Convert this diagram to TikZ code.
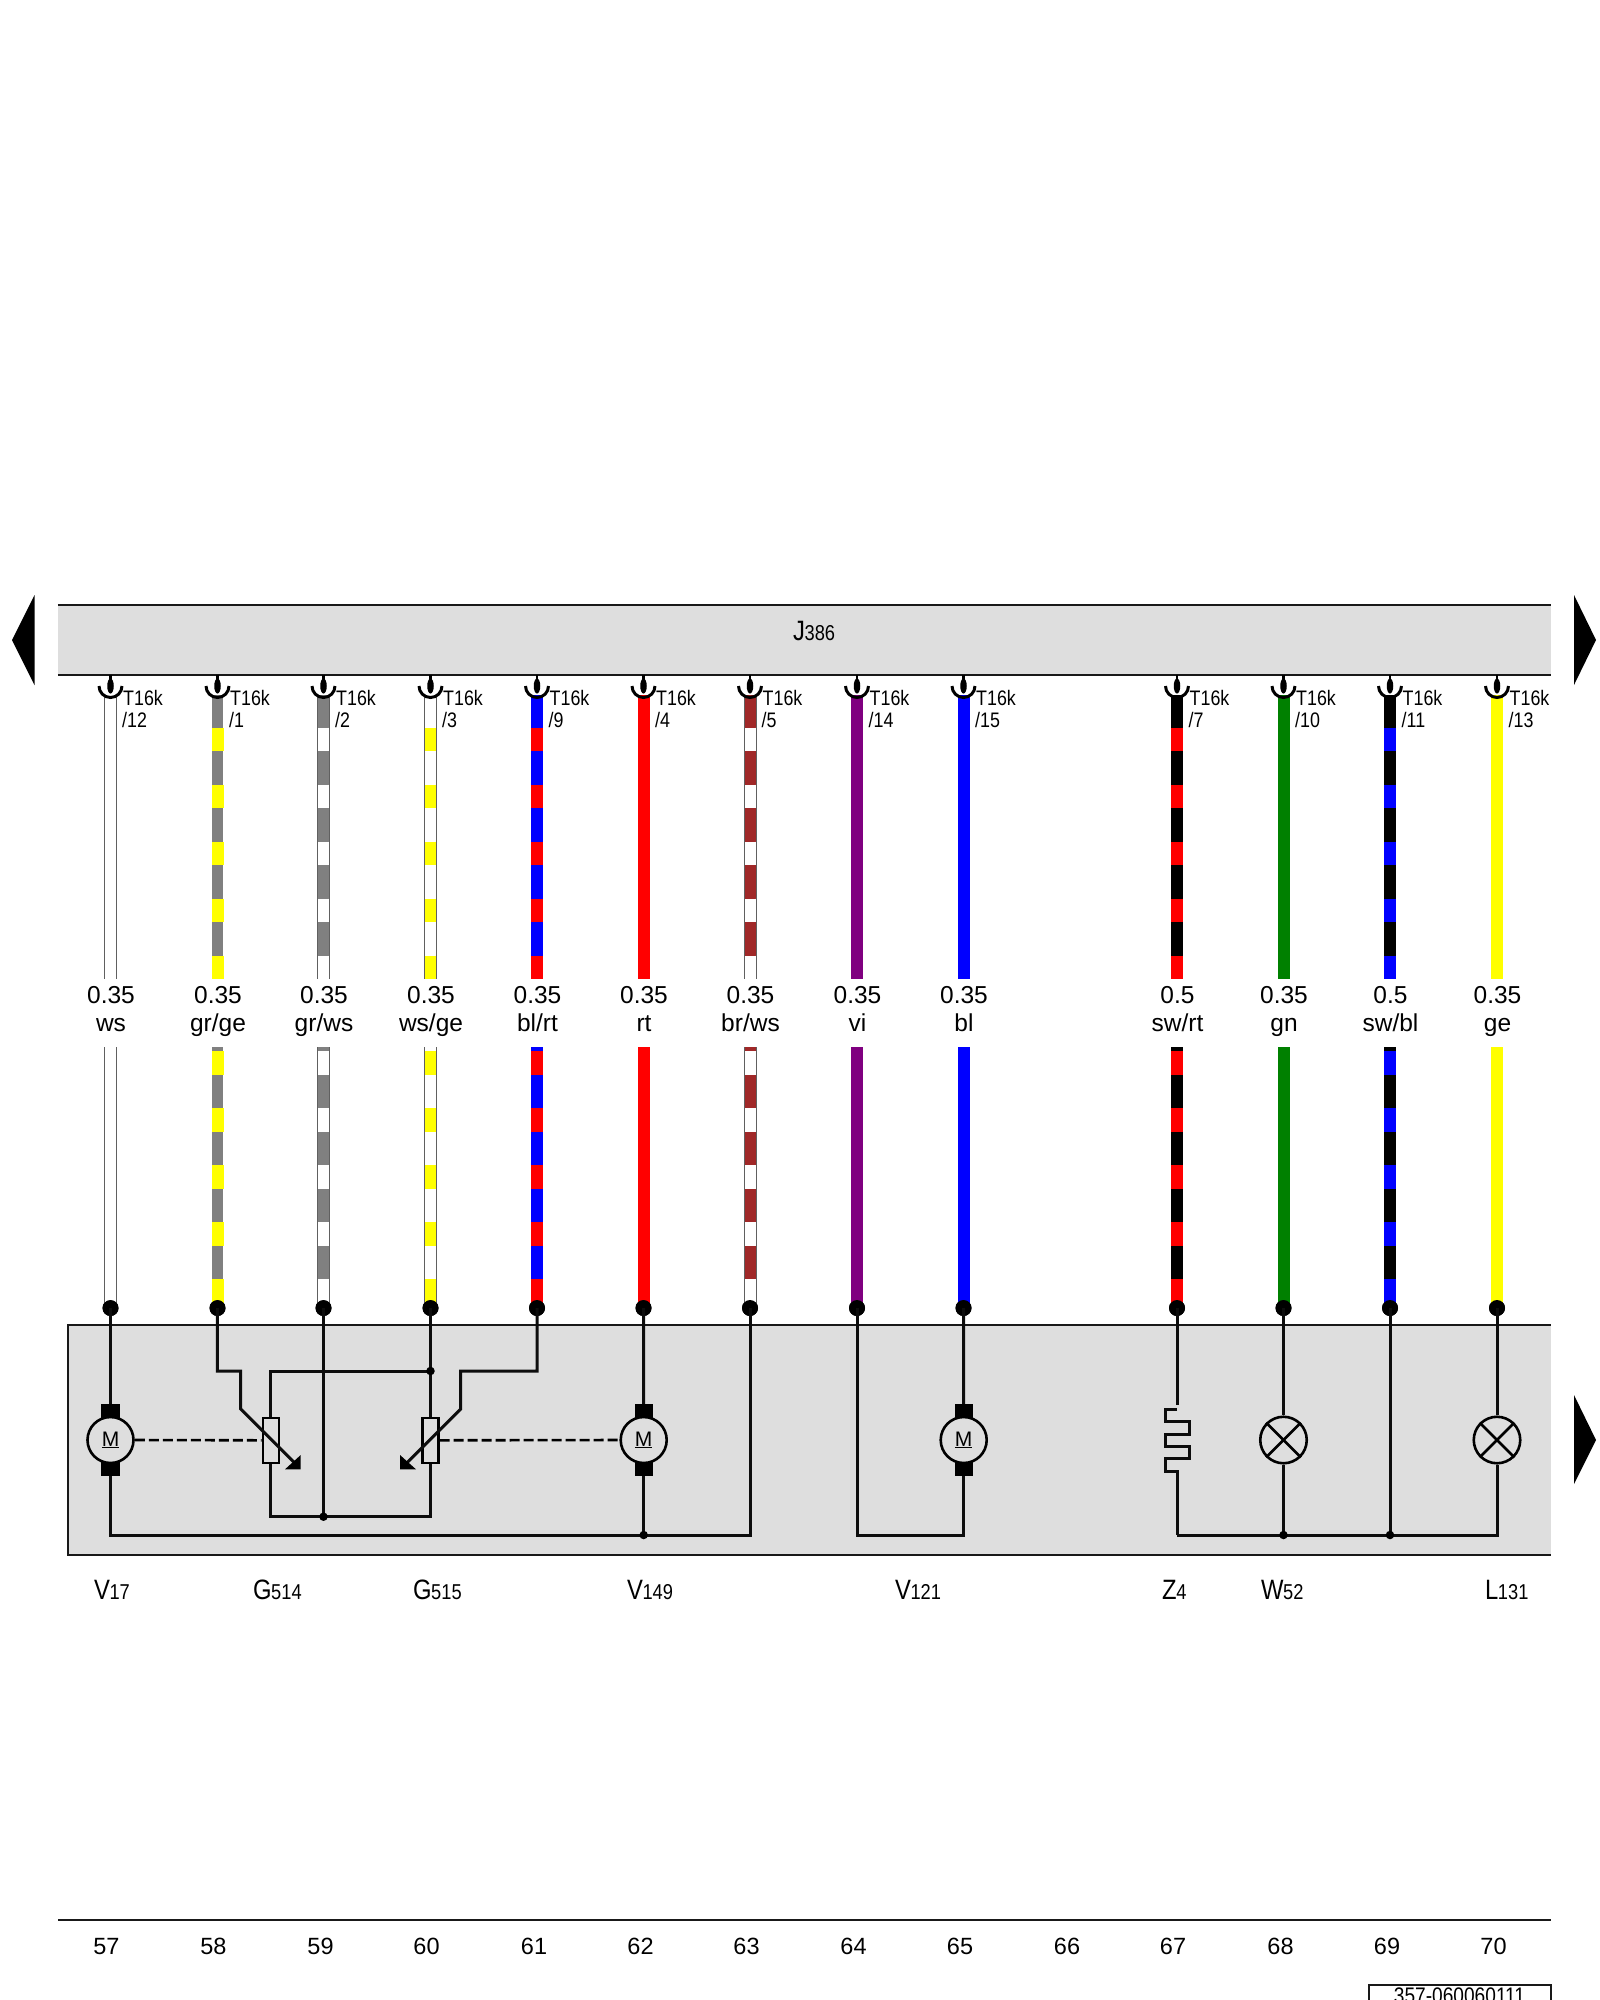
\documentclass[tikz,border=0pt]{standalone}
\usepackage{fontspec}
\usetikzlibrary{shapes.geometric}
\setmainfont{Liberation Sans}
\newfontfamily\cond[FakeStretch=0.85]{Liberation Sans}
\definecolor{panel}{HTML}{DEDEDE}
\definecolor{edgegray}{HTML}{606060}
\definecolor{grc}{HTML}{808080}
\definecolor{gec}{HTML}{FFFF00}
\definecolor{rtc}{HTML}{FF0000}
\definecolor{blc}{HTML}{0000FF}
\definecolor{brc}{HTML}{A02828}
\definecolor{vic}{HTML}{800080}
\definecolor{gnc}{HTML}{008000}
\definecolor{swc}{HTML}{000000}
\definecolor{wsc}{HTML}{FFFFFF}
\newcommand{\lbl}[2]{{\cond\fontsize{28}{30}\selectfont #1\kern-0.5pt\fontsize{21.5}{24}\selectfont #2}}
\tikzset{
  rail/.style={draw=black!90,line width=2pt},
  wire/.style={draw=black!95,line width=3pt,line join=miter},
  dashwire/.style={draw=black,line width=2.6pt,dash pattern=on 10pt off 4pt},
  termdot/.style={circle,fill=black,inner sep=0pt,minimum size=16pt},
  junct/.style={circle,fill=black,inner sep=0pt,minimum size=8.5pt},
  brush/.style={rectangle,fill=black,inner sep=0pt,minimum width=18.4pt,minimum height=20pt},
  motor/.style={circle,draw=black,fill=panel,line width=2.6pt,inner sep=0pt,minimum size=46pt,font=\fontsize{21}{22}\selectfont},
  lamp/.style={circle,draw=black,fill=panel,line width=2.6pt,inner sep=0pt,minimum size=46.5pt},
  resist/.style={rectangle,draw=black,fill=panel,line width=2.4pt,inner sep=0pt,minimum width=16pt,minimum height=45pt},
  wiretext/.style={inner sep=0pt,anchor=base,font=\fontsize{24.5}{26}\selectfont},
  pintext/.style={inner sep=0pt,anchor=base west,font=\cond\fontsize{21}{24}\selectfont},
  parttext/.style={inner sep=0pt,anchor=base west},
  numtext/.style={inner sep=0pt,anchor=base,font=\fontsize{23.5}{26}\selectfont},
  drop/.style={ellipse,fill=black,inner sep=0pt,minimum width=6.5pt,minimum height=15pt},
}
\begin{document}
\begin{tikzpicture}[x=1pt,y=-1pt]
\useasboundingbox (0,0) rectangle (1600,2000);
\clip (0,0) rectangle (1600,2000);
% side arrows
\fill[black] (12,640) -- (34.5,595) -- (34.5,685) -- cycle;
\fill[black] (1596,640) -- (1574,595) -- (1574,685) -- cycle;
\fill[black] (1596,1440) -- (1574,1395) -- (1574,1484) -- cycle;
% control unit bar
\node[fill=panel,inner sep=0pt,minimum width=1492.5pt,minimum height=69.5pt] (J) at (804.25,640) {};
\draw[rail] (J.north west) -- (J.north east);
\draw[rail] (J.south west) -- (J.south east);
\node[parttext] (Jlbl) at (793,640) {\lbl{J}{386}};
% lower panel
\node[fill=panel,inner sep=0pt,minimum width=1482.5pt,minimum height=230pt] (P) at (809.25,1440) {};
\draw[rail] (P.north east) -- (P.north west) -- (P.south west) -- (P.south east);
% wires
\foreach \i/\x/\size/\col/\pin/\base/\stripe/\edge/\w/\sw in {
 1/110.5/0.35/ws/12/wsc/wsc/edgegray/13.5/11,
 2/217.5/0.35/{gr/ge}/1/grc/gec/grc/11/12,
 3/323.5/0.35/{gr/ws}/2/grc/wsc/edgegray/13/11,
 4/430.5/0.35/{ws/ge}/3/wsc/gec/edgegray/13/11.5,
 5/537/0.35/{bl/rt}/9/blc/rtc/blc/11.7/11.7,
 6/643.5/0.35/rt/4/rtc/rtc/rtc/12/12,
 7/750/0.35/{br/ws}/5/brc/wsc/edgegray/13/11,
 8/857/0.35/vi/14/vic/vic/vic/12/12,
 9/963.5/0.35/bl/15/blc/blc/blc/12/12,
 10/1177/0.5/{sw/rt}/7/swc/rtc/swc/11.7/11.7,
 11/1283.5/0.35/gn/10/gnc/gnc/gnc/12/12,
 12/1390/0.5/{sw/bl}/11/swc/blc/swc/11.7/11.7,
 13/1497/0.35/ge/13/gec/gec/gec/12/12}
{
  \coordinate (t\i) at (\x,695);
  \coordinate (u\i) at (\x,979);
  \coordinate (l\i) at (\x,1047);
  \node[termdot] (d\i) at (\x,1308) {};
  \draw[line width=\w pt,draw=\edge] (t\i) -- (u\i);
  \draw[line width=\w pt,draw=\edge] (l\i) -- (d\i.center);
  \draw[line width=11pt,draw=\base] (t\i) -- (u\i);
  \draw[line width=11pt,draw=\base] (l\i) -- (d\i.center);
  \draw[line width=\sw pt,draw=\stripe,dash pattern=on 23.5pt off 33.5pt,dash phase=24.3pt] (t\i) -- (u\i);
  \draw[line width=\sw pt,draw=\stripe,dash pattern=on 23.5pt off 33.5pt,dash phase=53pt] (l\i) -- (d\i.center);
  \node[termdot] at (d\i) {};
  % connector
  \node[drop] (p\i) at (\x,686) {};
  \draw[line width=2.4pt,draw=black] (p\i.center) -- (p\i.center |- J.south);
  \draw[line width=3pt,draw=black] ([xshift=-11.5pt]p\i.center) arc[start angle=180,end angle=360,radius=11.5pt];
  \node[pintext] (q\i) at (\x+12.5,705) {T16k};
  \node[pintext] (r\i) at (\x+11.5,727.7) {/\pin};
  \node[wiretext] (s\i) at (\x+0.5,1003) {\size};
  \node[wiretext] (c\i) at (\x+0.5,1031) {\col};
}
% V17
\node[brush] (m1t) at (110.5,1414) {};
\node[brush] (m1b) at (110.5,1466) {};
\node[motor] (m1) at (110.5,1440) {\underline{M}};
% V149
\node[brush] (m2t) at (643.7,1414) {};
\node[brush] (m2b) at (643.7,1466) {};
\node[motor] (m2) at (643.7,1440) {\underline{M}};
% V121
\node[brush] (m3t) at (963.7,1414) {};
\node[brush] (m3b) at (963.7,1466) {};
\node[motor] (m3) at (963.7,1440) {\underline{M}};
% common returns
\coordinate (retL) at (110.5,1535);
\coordinate (retA) at (643.7,1535);
\coordinate (retR) at (750,1535);
\draw[wire] (d1.center) -- (m1t.north);
\draw[wire] (d6.center) -- (m2t.north);
\draw[wire] (d9.center) -- (m3t.north);
\draw[wire] (m1b.south) -- (retL) -- (retR) -- (d7.center);
\draw[wire] (m2b.south) -- (retA);
\node[junct] (j1) at (retA) {};
\coordinate (retV) at (857,1535);
\coordinate (retW) at (963.7,1535);
\draw[wire] (d8.center) -- (retV) -- (retW) -- (m3b.south);
% potentiometers
\node[resist] (rA) at (270.7,1440.3) {};
\node[resist] (rB) at (430.5,1440.3) {};
\coordinate (aTop) at (270.7,1371);
\coordinate (aBot) at (270.7,1516.7);
\coordinate (bTop) at (430.5,1371);
\coordinate (bBot) at (430.5,1516.7);
\coordinate (cBot) at (323.5,1516.7);
\draw[wire] (rA.north) -- (aTop) -- (bTop);
\draw[wire] (rA.south) -- (aBot) -- (bBot) -- (rB.south);
\draw[wire] (d4.center) -- (rB.north);
\draw[wire] (d3.center) -- (cBot);
\node[junct] (j2) at (bTop) {};
\node[junct] (j3) at (cBot) {};
\coordinate (w1) at (217.4,1371);
\coordinate (w2) at (240.7,1371);
\coordinate (w3) at (240.7,1409);
\coordinate (w4) at (295,1463.3);
\draw[wire] (d2.center) -- (w1) -- (w2) -- (w3) -- (w4);
\fill[black] (300.7,1469.3) -- (300.7,1455) -- (285,1469.3) -- cycle;
\coordinate (v1) at (537,1371);
\coordinate (v2) at (460.7,1371);
\coordinate (v3) at (460.7,1409);
\coordinate (v4) at (406,1463.7);
\draw[wire] (d5.center) -- (v1) -- (v2) -- (v3) -- (v4);
\fill[black] (400,1469.3) -- (400,1455) -- (416,1469.3) -- cycle;
\draw[dashwire] (m1.east) -- (rA.west);
\draw[dashwire] (rB.east) -- (m2.west);
% Z4 heater
\coordinate (z0) at (1177,1405);
\coordinate (z1) at (1177,1409.3);
\coordinate (z2) at (1177,1471);
\coordinate (zB) at (1177,1535);
\draw[wire] (d10.center) -- (z0);
\draw[wire] (z1) -- ++(-12,0) -- ++(0,12.4) -- ++(24,0) -- ++(0,12.3) -- ++(-24,0) -- ++(0,12) -- ++(24,0) -- ++(0,12.3) -- ++(-24,0) -- ++(0,12.7) -- (z2) -- (zB);
% lamps
\node[lamp] (lW) at (1283.5,1440) {};
\node[lamp] (lL) at (1497,1440) {};
\foreach \n in {lW,lL}{
  \draw[line width=2.6pt] (\n.45) -- (\n.225);
  \draw[line width=2.6pt] (\n.135) -- (\n.-45);
}
\coordinate (rW) at (1283.5,1535);
\coordinate (rS) at (1390,1535);
\coordinate (rL) at (1497,1535);
\draw[wire] (d11.center) -- (lW.north);
\draw[wire] (lW.south) -- (rW);
\draw[wire] (d12.center) -- (rS);
\draw[wire] (d13.center) -- (lL.north);
\draw[wire] (zB) -- (rL) -- (lL.south);
\node[junct] (j4) at (rW) {};
\node[junct] (j5) at (rS) {};
% part labels
\node[parttext] (t1) at (94,1599) {\lbl{V}{17}};
\node[parttext] (t2) at (253,1599) {\lbl{G}{514}};
\node[parttext] (t3) at (413,1599) {\lbl{G}{515}};
\node[parttext] (t4) at (627,1599) {\lbl{V}{149}};
\node[parttext] (t5) at (895,1599) {\lbl{V}{121}};
\node[parttext] (t6) at (1162,1599) {\lbl{Z}{4}};
\node[parttext] (t7) at (1261,1599) {\lbl{W}{52}};
\node[parttext] (t8) at (1485,1599) {\lbl{L}{131}};
% track numbers
\coordinate (fL) at (58,1920);
\coordinate (fR) at (1550.5,1920);
\draw[rail] (fL) -- (fR);
\foreach \n/\x in {57/106.5,58/213.5,59/320.5,60/426.5,61/534,62/640.5,63/746.5,64/853.5,65/960,66/1067,67/1173,68/1280.5,69/1387,70/1493.5}{
  \node[numtext] (n\n) at (\x,1954) {\n};
}
% drawing number
\coordinate (b1) at (1368.5,2010);
\coordinate (b2) at (1368.5,1985);
\coordinate (b3) at (1550.5,1985);
\coordinate (b4) at (1550.5,2010);
\draw[rail] (b1) -- (b2) -- (b3) -- (b4);
\node[inner sep=0pt,anchor=base,font=\cond\fontsize{22.5}{24}\selectfont] (dn) at (1459.5,2003) {357-060060111};
\end{tikzpicture}
\end{document}
